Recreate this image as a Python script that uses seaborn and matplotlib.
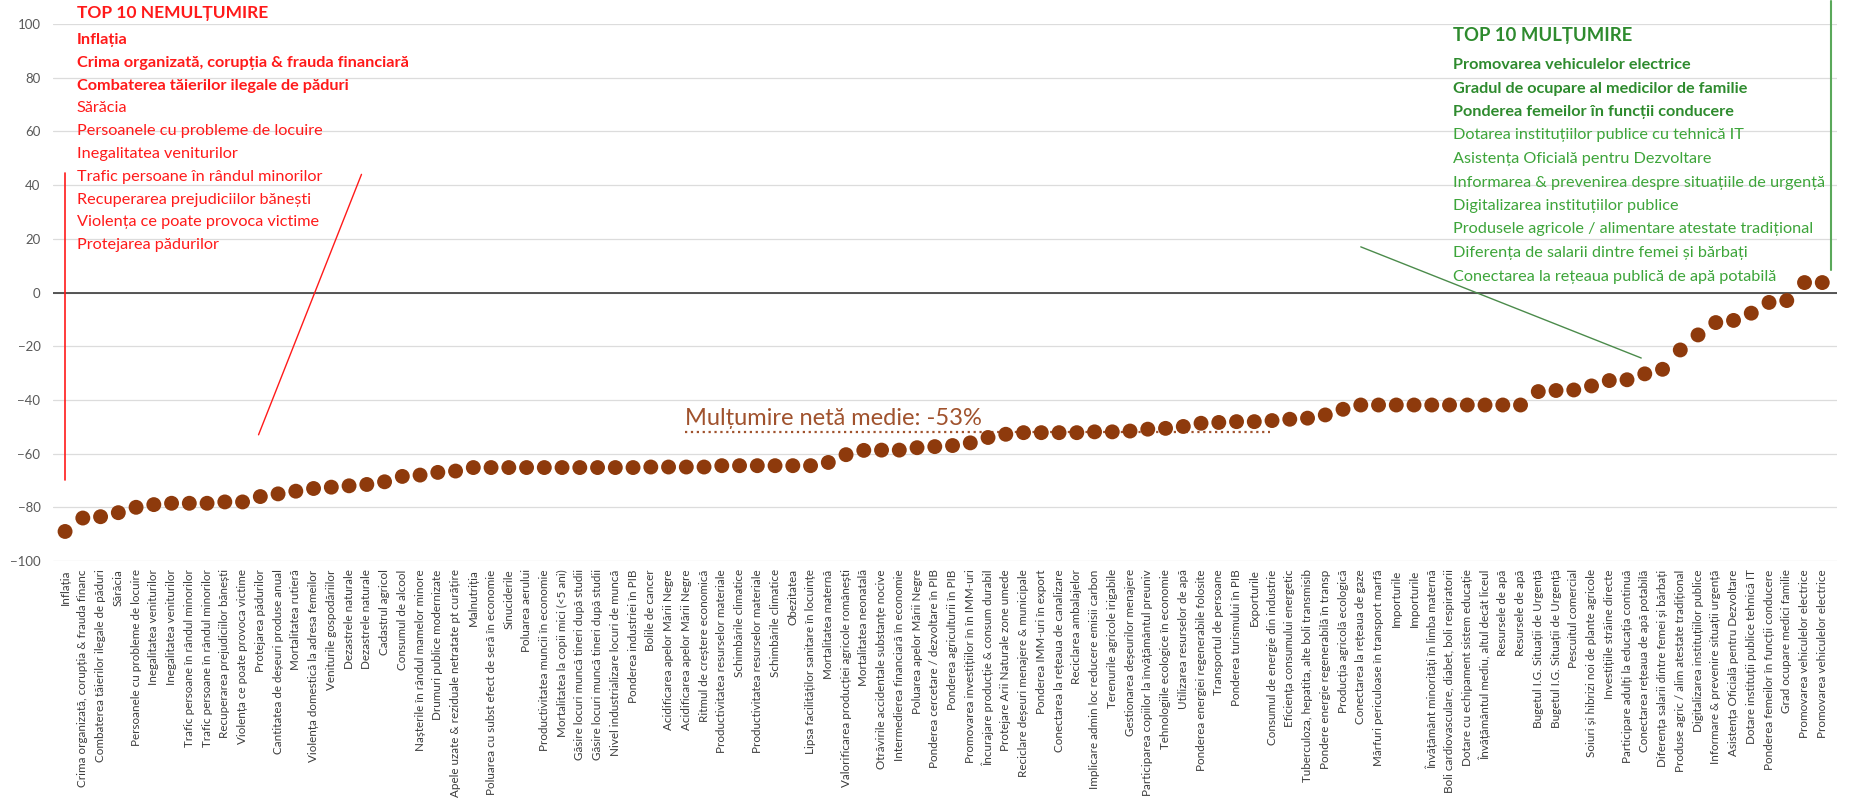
"""
Net satisfaction per indicator, sorted - dot chart with top-10 call-outs.
Writes out.png (1865x806).
"""
import numpy as np
import pandas as pd
import matplotlib
matplotlib.use("Agg")
import matplotlib.pyplot as plt
import seaborn as sns

categories = [
    "Inflația",
    "Crima organizată, corupția & frauda financ",
    "Combaterea tăierilor ilegale de păduri",
    "Sărăcia",
    "Persoanele cu probleme de locuire",
    "Inegalitatea veniturilor",
    "Inegalitatea veniturilor",
    "Trafic persoane în rândul minorilor",
    "Trafic persoane în rândul minorilor",
    "Recuperarea prejudiciilor bănești",
    "Violența ce poate provoca victime",
    "Protejarea pădurilor",
    "Cantitatea de deșeuri produse anual",
    "Mortalitatea rutieră",
    "Violența domestică la adresa femeilor",
    "Veniturile gospodăriilor",
    "Dezastrele naturale",
    "Dezastrele naturale",
    "Cadastrul agricol",
    "Consumul de alcool",
    "Nașterile în rândul mamelor minore",
    "Drumuri publice modernizate",
    "Apele uzate & reziduale netratate pt curățire",
    "Malnutriția",
    "Poluarea cu subst efect de seră în economie",
    "Sinuciderile",
    "Poluarea aerului",
    "Productivitatea muncii în economie",
    "Mortalitatea la copii mici (<5 ani)",
    "Găsire locuri muncă tineri după studii",
    "Găsire locuri muncă tineri după studii",
    "Nivel industrializare locuri de muncă",
    "Ponderea industriei în PIB",
    "Bolile de cancer",
    "Acidificarea apelor Mării Negre",
    "Acidificarea apelor Mării Negre",
    "Ritmul de creștere economică",
    "Productivitatea resurselor materiale",
    "Schimbările climatice",
    "Productivitatea resurselor materiale",
    "Schimbările climatice",
    "Obezitatea",
    "Lipsa facilităților sanitare în locuințe",
    "Mortalitatea maternă",
    "Valorificarea producției agricole românești",
    "Mortalitatea neonatală",
    "Otrăvirile accidentale substanțe nocive",
    "Intermedierea financiară în economie",
    "Poluarea apelor Mării Negre",
    "Ponderea cercetare / dezvoltare în PIB",
    "Ponderea agriculturii în PIB",
    "Promovarea investițiilor în în IMM-uri",
    "Încurajare producție & consum durabil",
    "Protejare Arii Naturale zone umede",
    "Reciclare deșeuri menajere & municipale",
    "Ponderea IMM-uri în export",
    "Conectarea la rețeaua de canalizare",
    "Reciclarea ambalajelor",
    "Implicare admin loc reducere emisii carbon",
    "Terenurile agricole irigabile",
    "Gestionarea deșeurilor menajere",
    "Participarea copiilor la învățământul preuniv",
    "Tehnologiile ecologice în economie",
    "Utilizarea resurselor de apă",
    "Ponderea energiei regenerabile folosite",
    "Transportul de persoane",
    "Ponderea turismului în PIB",
    "Exporturile",
    "Consumul de energie din industrie",
    "Eficiența consumului energetic",
    "Tuberculoza, hepatita, alte boli transmisib",
    "Pondere energie regenerabilă în transp",
    "Producția agricolă ecologică",
    "Conectarea la rețeaua de gaze",
    "Mărfuri periculoase în transport marfă",
    "Importurile",
    "Importurile",
    "Învățământ minorități în limba maternă",
    "Boli cardiovasculare, diabet, boli respiratorii",
    "Dotare cu echipament sistem educație",
    "Învățământul mediu, altul decât liceul",
    "Resursele de apă",
    "Resursele de apă",
    "Bugetul I.G. Situații de Urgență",
    "Bugetul I.G. Situații de Urgență",
    "Pescuitul comercial",
    "Soiuri și hibrizi noi de plante agricole",
    "Investițiile străine directe",
    "Participare adulți la educația continuă",
    "Conectarea rețeaua de apă potabilă",
    "Diferența salarii dintre femei și bărbați",
    "Produse agric / alim atestate tradițional",
    "Digitalizarea instituțiilor publice",
    "Informare & prevenire situații urgență",
    "Asistența Oficială pentru Dezvoltare",
    "Dotare instituții publice tehnică IT",
    "Ponderea femeilor în funcții conducere",
    "Grad ocupare medici familie",
    "Promovarea vehiculelor electrice",
    "Promovarea vehiculelor electrice",
]

net_satisfaction = [
    -89, -84, -83.5, -82, -80, -79, -78.5, -78.5, -78.5, -78,
    -78, -76, -75, -74, -73, -72.5, -72, -71.5, -70.5, -68.5,
    -68, -67, -66.5, -65.2, -65.2, -65.2, -65.2, -65.2, -65.2, -65.2,
    -65.2, -65.2, -65.2, -65, -65, -65, -65, -64.5, -64.5, -64.5,
    -64.5, -64.5, -64.5, -63.3, -60.4, -58.8, -58.7, -58.7, -57.8, -57.4,
    -57, -56, -54, -52.8, -52.2, -52.2, -52.2, -52.2, -51.9, -51.9,
    -51.6, -50.9, -50.6, -49.9, -48.7, -48.4, -48.1, -48.1, -47.7, -47.2,
    -46.8, -45.6, -43.5, -41.9, -41.9, -41.9, -41.9, -41.9, -41.9, -41.9,
    -41.9, -41.9, -41.9, -36.9, -36.5, -36.3, -34.8, -32.8, -32.5, -30.3,
    -28.6, -21.4, -15.8, -11.2, -10.4, -7.7, -3.7, -3.0, 3.7, 3.7,
]

top10_dissatisfaction = [
    "Inflația",
    "Crima organizată, corupția & frauda financiară",
    "Combaterea tăierilor ilegale de păduri",
    "Sărăcia",
    "Persoanele cu probleme de locuire",
    "Inegalitatea veniturilor",
    "Trafic persoane în rândul minorilor",
    "Recuperarea prejudiciilor bănești",
    "Violența ce poate provoca victime",
    "Protejarea pădurilor",
]

top10_satisfaction = [
    "Promovarea vehiculelor electrice",
    "Gradul de ocupare al medicilor de familie",
    "Ponderea femeilor în funcții conducere",
    "Dotarea instituțiilor publice cu tehnică IT",
    "Asistența Oficială pentru Dezvoltare",
    "Informarea & prevenirea despre situațiile de urgență",
    "Digitalizarea instituțiilor publice",
    "Produsele agricole / alimentare atestate tradițional",
    "Diferența de salarii dintre femei și bărbați",
    "Conectarea la rețeaua publică de apă potabilă",
]

mean_net = -53

DOT = "#8E3A0C"
RED = "#FF1A1A"
GREEN = "#3DA53A"
DARK_GREEN = "#2E8B2E"
BROWN = "#A0522D"

sns.set_theme(style="white")
plt.rcParams["font.family"] = ["Lato", "DejaVu Sans"]

df = pd.DataFrame({
    "rank": np.arange(len(categories)),
    "value": net_satisfaction,
    "label": categories,
})

W, H = 1865, 806
fig = plt.figure(figsize=(W / 100, H / 100), dpi=100)
ax = fig.add_axes([53 / W, 1 - 561 / H, (1837 - 53) / W, (561 - 24) / H])

sns.scatterplot(data=df, x="rank", y="value", ax=ax, s=115, color=DOT,
                edgecolor="none", zorder=3, legend=False)

ax.set_xlim(-0.68, 99.83)
ax.set_ylim(-100, 100)
ax.set_yticks(range(-100, 101, 20))
ax.yaxis.grid(True, color="#dcdcdc", lw=0.9)
ax.xaxis.grid(False)
ax.axhline(0, color="#3a3a3a", lw=1.2, zorder=2)

ax.set_xticks(df["rank"])
ax.set_xticklabels(df["label"], rotation=90, fontsize=8.4, color="#3a3a3a")
ax.tick_params(axis="x", length=0, pad=6)
ax.tick_params(axis="y", length=0, pad=9, labelsize=9.5, labelcolor="#595959")
for sp in ax.spines.values():
    sp.set_visible(False)
ax.set_xlabel("")
ax.set_ylabel("")

# average marker
ax.plot([34.9, 67.9], [mean_net + 1, mean_net + 1], ls=":", color=BROWN, lw=1.6)
ax.text(34.9, mean_net + 2.3, f"Mulțumire netă medie: {mean_net}%",
        color=BROWN, fontsize=17, ha="left", va="bottom")

# call-out connectors
ax.plot([0, 0], [44.5, -70], color=RED, lw=1.2, clip_on=False)
ax.plot([16.7, 10.9], [44, -53], color=RED, lw=1.0)
ax.plot([73.0, 88.8], [17, -24.4], color="#4b8b4b", lw=1.0)
ax.plot([99.5, 99.5], [8.4, 108.5], color="#5aa85a", lw=1.5, clip_on=False)

# top-10 lists
fig.text(77 / W, 1 - 13 / H, "TOP 10 NEMULȚUMIRE", color=RED,
         fontsize=12.5, fontweight="bold", va="center")
for i, name in enumerate(top10_dissatisfaction):
    fig.text(77 / W, 1 - (40 + 22.8 * i) / H, name, color=RED, fontsize=11.7,
             fontweight="bold" if i < 3 else "normal", va="center")

fig.text(1453 / W, 1 - 35 / H, "TOP 10 MULȚUMIRE", color=DARK_GREEN,
         fontsize=13.3, fontweight="bold", va="center")
for i, name in enumerate(top10_satisfaction):
    fig.text(1453 / W, 1 - (65 + 23.5 * i) / H, name,
             color=DARK_GREEN if i < 3 else GREEN, fontsize=11.7,
             fontweight="bold" if i < 3 else "normal", va="center")

fig.savefig("out.png", dpi=100)
